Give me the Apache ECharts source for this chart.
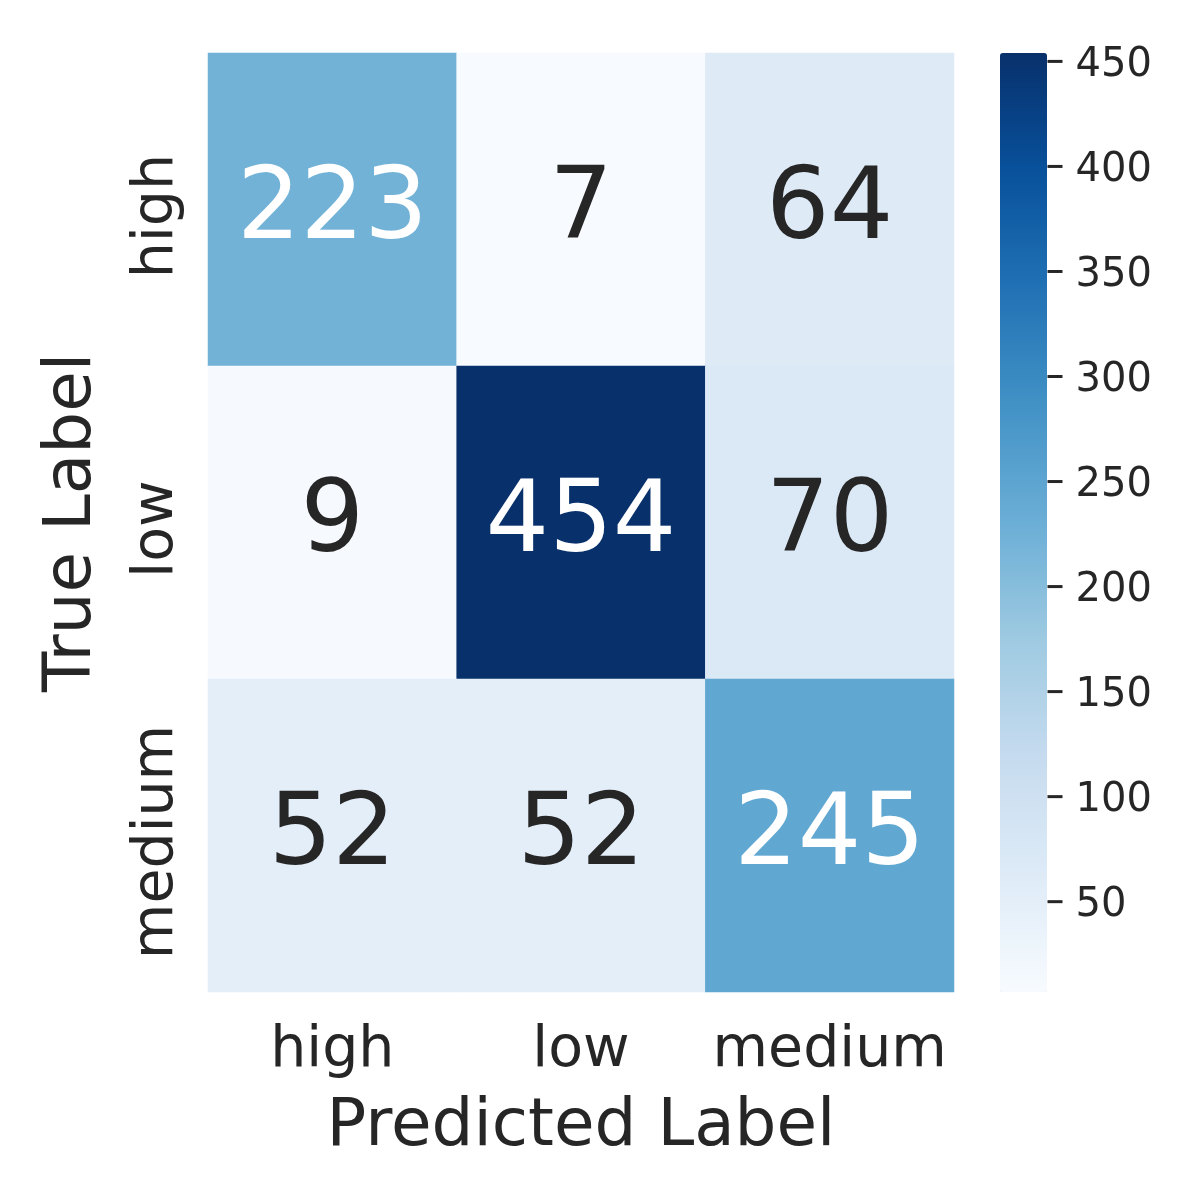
<!DOCTYPE html>
<html><head><meta charset="utf-8">
<script src="https://cdn.jsdelivr.net/npm/echarts@6/dist/echarts.min.js"></script>
<style>html,body{margin:0;padding:0;background:#fff}#c{width:1200px;height:1200px}</style>
</head><body><div id="c"></div>
<script>
const predLabels = ['high', 'low', 'medium'];
const trueLabels = ['high', 'low', 'medium'];
// rows = true label, cols = predicted label
const rowHigh = [223, 7, 64];
const rowLow = [9, 454, 70];
const rowMedium = [52, 52, 245];
const cbTicks = [50, 100, 150, 200, 250, 300, 350, 400, 450];
const blues = ['#f7fbff','#deebf7','#c6dbef','#9ecae1','#6baed6','#4292c6','#2171b5','#08519c','#08306b'];

const rows = [rowHigh, rowLow, rowMedium];
const vmin = Math.min(...rows.flat()), vmax = Math.max(...rows.flat());
const data = [];
rows.forEach((r, i) => r.forEach((v, j) => {
  data.push({ value: [j, i, v], label: { color: v > (vmin + vmax) / 2 - 20 ? '#ffffff' : '#262626' } });
}));
const font = 'DejaVu Sans';
const txt = '#262626';
const chart = echarts.init(document.getElementById('c'), null, { renderer: 'canvas' });
chart.setOption({
  backgroundColor: '#ffffff',
  animation: false,
  textStyle: { fontFamily: font },
  grid: [
    { left: 208, top: 53, width: 746, height: 939 },
    { left: 1000, top: 53, width: 47, height: 939 }
  ],
  xAxis: [
    { type: 'category', data: predLabels, gridIndex: 0, position: 'bottom',
      axisLine: { show: false }, axisTick: { show: false }, splitLine: { show: false },
      axisLabel: { fontSize: 57, color: txt, margin: 31, interval: 0, fontFamily: font },
      name: 'Predicted Label', nameLocation: 'middle', nameGap: 103,
      nameTextStyle: { fontSize: 66, color: txt, fontFamily: font } },
    { type: 'value', gridIndex: 1, show: false, min: 0, max: 1 }
  ],
  yAxis: [
    { type: 'category', data: trueLabels, gridIndex: 0, inverse: true,
      axisLine: { show: false }, axisTick: { show: false }, splitLine: { show: false },
      axisLabel: { fontSize: 57, color: txt, margin: 22, rotate: 90, interval: 0, fontFamily: font, padding: [0, 13, 0, 0] },
      name: 'True Label', nameLocation: 'middle', nameGap: 102,
      nameTextStyle: { fontSize: 66, color: txt, fontFamily: font } },
    { type: 'value', gridIndex: 1, position: 'right', min: vmin, max: vmax,
      axisLine: { show: false }, splitLine: { show: false },
      axisTick: { show: false }, axisLabel: { show: false } }
  ],
  visualMap: {
    type: 'continuous', min: vmin, max: vmax, seriesIndex: 0,
    calculable: false, orient: 'vertical', left: 1000, top: 53, padding: 0,
    itemWidth: 47, itemHeight: 939, text: null, showLabel: false,
    inRange: { color: blues }
  },
  series: [{
    type: 'heatmap', xAxisIndex: 0, yAxisIndex: 0, data: data,
    label: { show: true, fontSize: 100, fontFamily: font, offset: [0, 3], formatter: p => p.value[2] },
    itemStyle: { borderWidth: 0 },
    emphasis: { disabled: true }
  }, {
    type: 'scatter', xAxisIndex: 1, yAxisIndex: 1,
    data: cbTicks.map(v => [1, v]),
    symbol: 'rect', symbolSize: [15, 3], symbolOffset: [8, 0],
    itemStyle: { color: txt, opacity: 1 },
    label: { show: true, position: 'right', distance: 13, offset: [0, 4], fontSize: 40, color: txt, opacity: 1, fontFamily: font,
      formatter: p => String(p.value[1]) },
    emphasis: { disabled: true }, silent: true
  }]
});
</script></body></html>
